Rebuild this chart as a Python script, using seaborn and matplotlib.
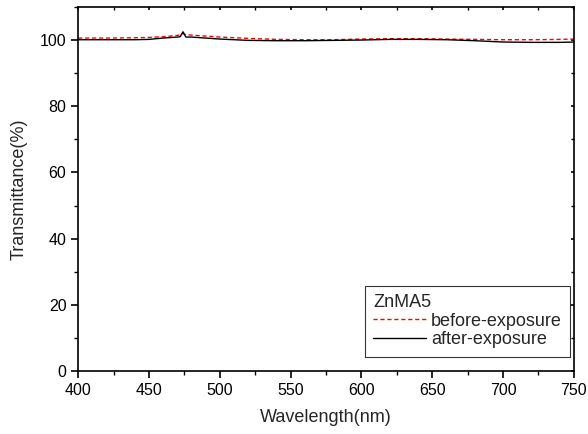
import numpy as np
import pandas as pd
import matplotlib
matplotlib.use("Agg")
import matplotlib.pyplot as plt
import seaborn as sns
from matplotlib.ticker import MultipleLocator

# Dados
wavelength = [400, 420, 440, 450, 460, 470, 472, 474, 476, 480, 490, 500, 520,
              540, 560, 580, 600, 620, 640, 660, 680, 700, 720, 740, 750]
before = [100.6, 100.6, 100.7, 100.8, 101.0, 101.4, 101.6, 102.0, 101.6, 101.5,
          101.2, 100.9, 100.5, 100.2, 100.1, 100.1, 100.3, 100.4, 100.4, 100.3,
          100.2, 100.1, 100.1, 100.2, 100.3]
after = [100.1, 100.1, 100.1, 100.2, 100.6, 100.9, 101.0, 102.5, 100.9, 100.9,
         100.6, 100.3, 99.9, 99.8, 99.8, 99.9, 100.0, 100.2, 100.2, 100.1,
         99.8, 99.4, 99.3, 99.3, 99.4]

sns.set_style("ticks")
plt.rcParams["font.family"] = ["Liberation Sans", "DejaVu Sans"]

df = pd.DataFrame({"wl": wavelength, "before": before, "after": after})

fig, ax = plt.subplots(figsize=(5.88, 4.34), dpi=100)
fig.subplots_adjust(left=0.133, right=0.976, bottom=0.145, top=0.984)

sns.lineplot(data=df, x="wl", y="before", ax=ax, color="red",
             linestyle=(0, (3, 2)), linewidth=1.0, label="before-exposure")
sns.lineplot(data=df, x="wl", y="after", ax=ax, color="black",
             linewidth=1.0, label="after-exposure")

ax.set_xlim(400, 750)
ax.set_ylim(0, 110)
ax.xaxis.set_major_locator(MultipleLocator(50))
ax.xaxis.set_minor_locator(MultipleLocator(25))
ax.yaxis.set_major_locator(MultipleLocator(20))
ax.yaxis.set_minor_locator(MultipleLocator(10))

ax.set_xlabel("Wavelength(nm)", fontsize=13, labelpad=8)
ax.set_ylabel("Transmittance(%)", fontsize=13, labelpad=9)

for s in ax.spines.values():
    s.set_visible(True)
    s.set_linewidth(1.2)
    s.set_color("black")

ax.tick_params(which="both", direction="out", labelsize=11.5, colors="black")
ax.tick_params(which="major", length=5, width=1.2)
ax.tick_params(which="minor", length=3, width=1.0)
ax.tick_params(which="both", top=True, right=True)
# ticks curtos para dentro no topo e na direita
for t in ax.xaxis.get_major_ticks() + ax.xaxis.get_minor_ticks():
    t.tick2line.set_marker(3)
    t.tick2line.set_markersize(2)
for t in ax.yaxis.get_major_ticks() + ax.yaxis.get_minor_ticks():
    t.tick2line.set_marker(0)
    t.tick2line.set_markersize(2)

leg = ax.legend(title="ZnMA5", loc="lower right", fontsize=13,
                title_fontsize=13, frameon=True, fancybox=False,
                edgecolor="black", handlelength=2.9, borderpad=0.45,
                labelspacing=0.1, handletextpad=0.3, borderaxespad=0,
                bbox_to_anchor=(0.992, 0.04))
leg._legend_box.align = "left"
leg.get_frame().set_linewidth(0.8)

fig.savefig("out.png", dpi=100)
